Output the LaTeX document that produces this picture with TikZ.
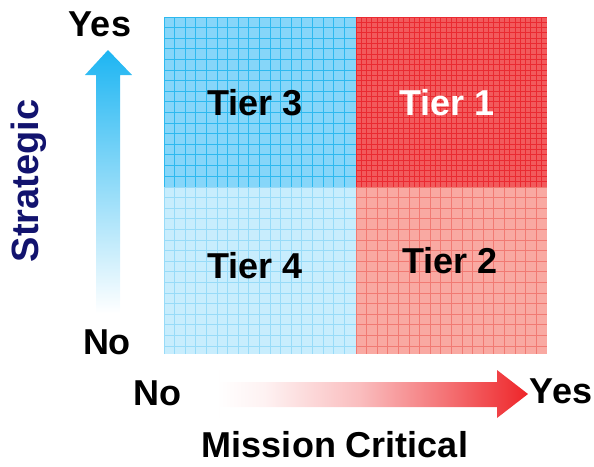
\documentclass[tikz,border=0pt]{standalone}
\usepackage{fontspec}
\setmainfont{Liberation Sans}
\usepackage{tikz}
\definecolor{skyfill}{HTML}{86D6F9}
\definecolor{skyline}{HTML}{2DB9EF}
\definecolor{palefill}{HTML}{C8EDFD}
\definecolor{paleline}{HTML}{98DBF8}
\definecolor{redfill}{HTML}{F25A5C}
\definecolor{redline}{HTML}{EA2A31}
\definecolor{pinkfill}{HTML}{F9A9A2}
\definecolor{pinkline}{HTML}{F17A73}
\definecolor{arrowblue}{HTML}{1DB5F2}
\definecolor{arrowred}{HTML}{EE2529}
\definecolor{navy}{HTML}{12136E}
\pgfdeclarehorizontalshading{redfade}{100bp}{color(0bp)=(white); color(29bp)=(white);
  color(36bp)=(arrowred!6); color(50bp)=(arrowred!30); color(63bp)=(arrowred!65);
  color(75bp)=(arrowred); color(100bp)=(arrowred)}
\tikzset{
  tier/.style={font=\bfseries\fontsize{36}{40}\selectfont},
  axis/.style={font=\bfseries\fontsize{36}{40}\selectfont},
}

\begin{document}
\begin{tikzpicture}[x=1pt,y=-1pt]
  \useasboundingbox (0,0) rectangle (594,466);
  % quadrants
  \fill[skyfill] (164,17) rectangle (356,187);
  \fill[redfill] (356,17) rectangle (547,187);
  \fill[palefill] (164,187) rectangle (356,354);
  \fill[pinkfill] (356,187) rectangle (547,354);
  % grid lines
  \foreach \gx in {164,174.6,...,352}
    \draw[skyline,line width=0.7pt] (\gx,17) -- (\gx,187);
  \foreach \gy in {17,27.6,...,184}
    \draw[skyline,line width=0.7pt] (164,\gy) -- (356,\gy);
  \foreach \gx in {164,174.6,...,352}
    \draw[paleline,line width=0.7pt] (\gx,187) -- (\gx,354);
  \foreach \gy in {187,197.6,...,352}
    \draw[paleline,line width=0.7pt] (164,\gy) -- (356,\gy);
  \foreach \gx in {356,361.3,...,546}
    \draw[redline,line width=0.9pt] (\gx,17) -- (\gx,187);
  \foreach \gy in {17,22.3,...,184}
    \draw[redline,line width=0.9pt] (356,\gy) -- (547,\gy);
  \foreach \gx in {356,366.6,...,546}
    \draw[pinkline,line width=0.7pt] (\gx,187) -- (\gx,354);
  \foreach \gy in {187,197.6,...,352}
    \draw[pinkline,line width=0.7pt] (356,\gy) -- (547,\gy);
  \node[tier] (tthree) at (255,103) {Tier 3};
  \node[tier,white] (tone) at (447,103) {Tier 1};
  \node[tier] (tfour) at (255,266) {Tier 4};
  \node[tier] (ttwo) at (450,261) {Tier 2};
  % vertical axis
  \shade[top color=arrowblue,bottom color=white]
    (96,313) -- (96,75) -- (85,75) -- (108,50) -- (132,75) -- (120,75) -- (120,313) -- cycle;
  \node[axis] (vyes) at (100,24) {Yes};
  \node[axis] (vno) at (107,342) {No};
  \node[axis,navy,rotate=90,font=\bfseries\fontsize{38}{42}\selectfont] (strat) at (29,181) {Strategic};
  % horizontal axis
  \shade[shading=redfade]
    (190,394) -- (220,370) -- (220,382) -- (497,382) -- (497,370) -- (528,394)
    -- (497,418) -- (497,407) -- (220,407) -- (220,418) -- cycle;
  \node[axis] (hno) at (157,393) {No};
  \node[axis] (hyes) at (561,391) {Yes};
  \node[axis] (mission) at (335,445) {Mission Critical};
\end{tikzpicture}
\end{document}
